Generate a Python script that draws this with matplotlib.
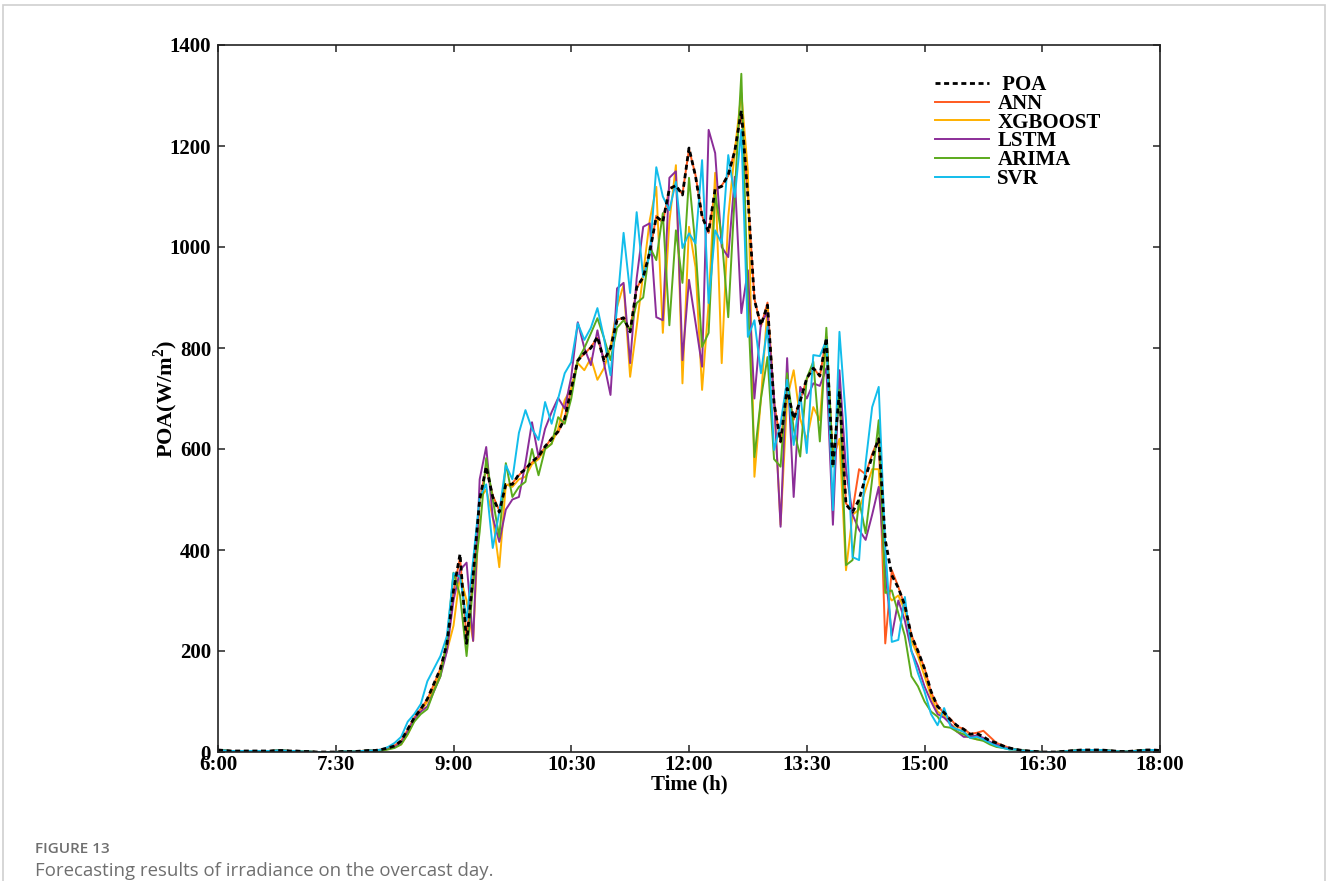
import numpy as np
import matplotlib
matplotlib.use("Agg")
import matplotlib.pyplot as plt
from matplotlib.patches import Rectangle

plt.rcParams['font.family'] = 'Liberation Serif'
plt.rcParams['mathtext.fontset'] = 'custom'
plt.rcParams['mathtext.rm'] = 'Liberation Serif'
plt.rcParams['mathtext.bf'] = 'Liberation Serif:bold'

# irradiance sampled every 5 minutes, 6:00 -> 18:00
night_am = [4, 3, 2, 2, 2, 2, 2, 2, 2, 3, 3, 2, 2, 1, 1, 0, 0, 0, 0, 1, 1, 1, 2, 3]
night_pm = [5, 3, 2, 1, 0, 0, 0, 1, 2, 3, 4, 4, 4, 4, 3, 2, 1, 1, 2, 3, 4, 4, 3]

# daytime part, 8:00 -> 16:05
poa_day = [3, 5, 8, 12, 22, 45, 68, 85, 105, 135,
           165, 215, 320, 392, 215, 350, 500, 565, 505, 475,
           530, 530, 550, 560, 575, 585, 605, 620, 635, 660,
           720, 775, 790, 800, 822, 775, 800, 855, 860, 832,
           920, 940, 990, 1060, 1050, 1115, 1122, 1103, 1196, 1140,
           1060, 1030, 1115, 1120, 1143, 1190, 1270, 1100, 895, 845,
           885, 690, 615, 720, 660, 695, 740, 760, 745, 820,
           565, 715, 490, 475, 500, 545, 585, 620, 420, 350,
           325, 290, 230, 200, 165, 120, 90, 78, 63, 52,
           45, 35, 37, 30, 22, 18, 12, 8]

ann_day = [3, 5, 8, 13, 22, 44, 68, 86, 104, 134,
           165, 212, 318, 385, 225, 345, 498, 563, 508, 478,
           528, 532, 548, 562, 573, 587, 603, 622, 633, 662,
           718, 777, 788, 802, 820, 778, 798, 857, 858, 835,
           918, 942, 988, 1062, 1048, 1117, 1120, 1105, 1194, 1142,
           1062, 1028, 1113, 1122, 1141, 1192, 1268, 1102, 897, 843,
           890, 692, 613, 722, 658, 697, 738, 762, 743, 822,
           567, 713, 492, 478, 560, 550, 590, 622, 215, 360,
           327, 288, 232, 198, 167, 118, 92, 76, 65, 50,
           46, 36, 38, 42, 30, 18, 13, 8]

xgb_day = [2, 3, 6, 10, 15, 35, 62, 80, 100, 125,
           160, 200, 250, 350, 300, 220, 500, 520, 465, 366,
           530, 525, 540, 545, 570, 580, 600, 611, 640, 697,
           720, 770, 756, 780, 737, 760, 800, 881, 925, 743,
           842, 948, 1053, 1119, 830, 1050, 1162, 730, 1040, 960,
           717, 889, 1147, 770, 1060, 1190, 1305, 1150, 545, 700,
           881, 700, 450, 700, 756, 660, 618, 683, 657, 822,
           580, 620, 360, 470, 480, 520, 560, 560, 320, 300,
           310, 280, 220, 190, 150, 110, 80, 72, 55, 45,
           40, 30, 25, 25, 18, 15, 10, 7]

lstm_day = [2, 3, 6, 10, 18, 40, 65, 80, 90, 120,
            150, 200, 300, 360, 375, 220, 540, 604, 465, 416,
            480, 500, 505, 572, 653, 584, 640, 673, 701, 680,
            743, 851, 800, 766, 835, 770, 707, 918, 929, 770,
            938, 1040, 1047, 861, 855, 1137, 1150, 776, 935, 850,
            763, 1232, 1186, 1000, 980, 1139, 869, 954, 700, 850,
            870, 700, 446, 780, 505, 723, 700, 730, 725, 760,
            450, 756, 560, 470, 440, 420, 470, 525, 360, 230,
            300, 260, 200, 170, 130, 100, 75, 68, 55, 40,
            30, 30, 33, 28, 20, 15, 10, 7]

arima_day = [2, 3, 5, 8, 15, 35, 60, 75, 85, 120,
             150, 220, 355, 310, 190, 330, 436, 582, 500, 426,
             572, 505, 525, 535, 600, 548, 600, 610, 663, 650,
             700, 776, 800, 829, 859, 820, 776, 840, 855, 835,
             889, 900, 1000, 974, 1067, 845, 1033, 929, 1137, 1000,
             802, 830, 1106, 1020, 861, 1106, 1343, 895, 584, 700,
             782, 580, 565, 750, 640, 585, 740, 773, 615, 840,
             565, 717, 370, 380, 499, 433, 540, 657, 315, 320,
             275, 230, 150, 130, 100, 80, 70, 50, 48, 40,
             35, 28, 25, 22, 15, 10, 8, 5]

svr_day = [3, 5, 10, 18, 30, 60, 75, 95, 140, 165,
           190, 230, 354, 347, 261, 380, 505, 530, 404, 475,
           568, 540, 632, 677, 640, 618, 693, 650, 700, 750,
           772, 849, 816, 840, 879, 820, 746, 880, 1028, 909,
           1069, 940, 984, 1158, 1100, 1073, 1129, 998, 1027, 1007,
           1172, 889, 1033, 1007, 1182, 1099, 1232, 822, 855, 750,
           842, 598, 650, 737, 608, 711, 592, 786, 784, 816,
           479, 832, 657, 386, 380, 572, 683, 723, 406, 218,
           222, 307, 200, 156, 120, 75, 53, 87, 50, 45,
           40, 28, 30, 25, 18, 12, 8, 5]

tick_hours = [6, 7.5, 9, 10.5, 12, 13.5, 15, 16.5, 18]
tick_labels = ['6:00', '7:30', '9:00', '10:30', '12:00', '13:30', '15:00', '16:30', '18:00']


def full_day(day):
    return np.array(night_am + day + night_pm, dtype=float)


hours = 6 + np.arange(len(night_am) + len(poa_day) + len(night_pm)) * 5 / 60

models = [('ANN', ann_day, '#FF5A1F'),
          ('XGBOOST', xgb_day, '#FFB000'),
          ('LSTM', lstm_day, '#8B2D98'),
          ('ARIMA', arima_day, '#5BAA1C'),
          ('SVR', svr_day, '#12BDEB')]

fig = plt.figure(figsize=(13.27, 8.81), dpi=100)
ax = fig.add_axes([218 / 1327, 1 - 752 / 881, 942 / 1327, 707 / 881])

handles = []
for name, vals, col in models:
    ln, = ax.plot(hours, full_day(vals), color=col, lw=1.4, label=name)
    handles.append(ln)
poa_line, = ax.plot(hours, full_day(poa_day), color='black', lw=2.0,
                    dashes=(1.8, 1.3), label=' POA')
handles.insert(0, poa_line)

ax.set_xlim(6, 18)
ax.set_ylim(0, 1400)
ax.set_xticks(tick_hours)
ax.set_xticklabels(tick_labels)
ax.set_yticks(range(0, 1401, 200))
ax.tick_params(direction='in', top=True, right=True, length=5, width=1.1,
               labelsize=15, color='#222222')
ax.tick_params(axis='x', pad=2)
ax.tick_params(axis='y', pad=5)
for lab in ax.get_xticklabels() + ax.get_yticklabels():
    lab.set_fontweight('bold')
for sp in ax.spines.values():
    sp.set_linewidth(1.2)
    sp.set_color('#222222')

ax.set_xlabel('Time (h)', fontsize=15, fontweight='bold', labelpad=0)
ax.set_ylabel('POA(W/m$^{\\mathbf{2}}$)', fontsize=16, fontweight='bold')
ax.yaxis.set_label_coords(-0.040, 0.5)

leg = ax.legend(handles=handles, loc='upper left', bbox_to_anchor=(0.75, 0.972),
                frameon=False, prop={'size': 15, 'weight': 'bold'},
                handlelength=2.6, handletextpad=0.4, labelspacing=-0.06,
                borderpad=0)

# page frame and caption
fig.add_artist(Rectangle((3 / 1327, -0.05), 1322 / 1327, 1.05 - 5 / 881,
                         transform=fig.transFigure, fill=False,
                         edgecolor='#cfcfcf', lw=1.2))
fig.text(35 / 1327, 1 - 849 / 881, 'FIGURE 13', family='Open Sans',
         fontsize=11, fontweight='semibold', color='#6f6f6f', va='center')
fig.text(35 / 1327, 1 - 871 / 881,
         'Forecasting results of irradiance on the overcast day.',
         family='Open Sans', fontsize=13.4, color='#6f6f6f', va='center')

fig.savefig('out.png', dpi=100)
